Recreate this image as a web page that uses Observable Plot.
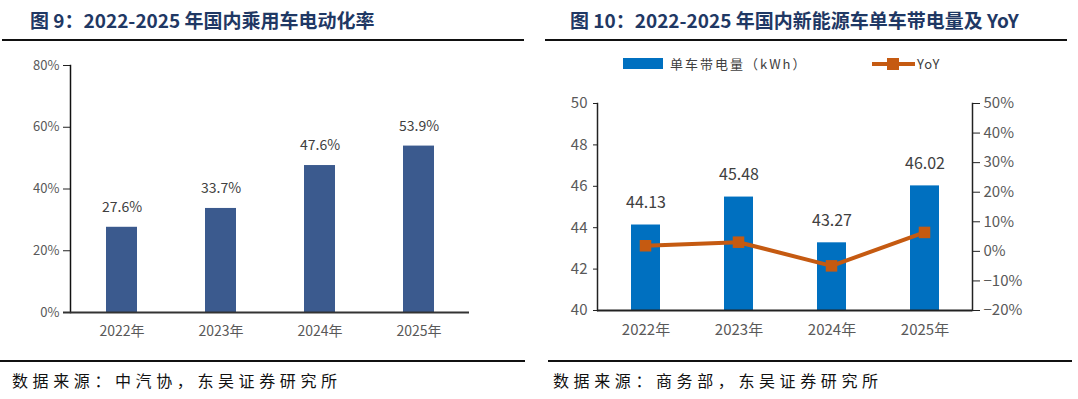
<!DOCTYPE html>
<html><head><meta charset="utf-8">
<script src="https://cdn.jsdelivr.net/npm/d3@7"></script>
<script src="https://cdn.jsdelivr.net/npm/@observablehq/plot@0.6"></script>
<style>
body{margin:0;width:1078px;height:399px;background:#fff;position:relative;overflow:hidden;font-family:"Noto Sans CJK SC",sans-serif;}
.title{position:absolute;top:6px;font-size:19px;font-weight:bold;color:#1f3864;white-space:nowrap;letter-spacing:0px;}
.hr{position:absolute;height:2px;background:#111;}
.src{position:absolute;top:368px;font-size:16px;color:#111;letter-spacing:4.6px;white-space:nowrap;}
.chart{position:absolute;}
.leg{position:absolute;font-size:13px;color:#404040;letter-spacing:2px;white-space:nowrap;}
</style></head>
<body>
<div class="title" style="left:30px">图 9：2022-2025 年国内乘用车电动化率</div>
<div class="title" style="left:570px">图 10：2022-2025 年国内新能源车单车带电量及 YoY</div>
<div class="hr" style="left:2px;top:39px;width:522px"></div>
<div class="hr" style="left:545px;top:39px;width:522px"></div>
<div class="hr" style="left:0px;top:360px;width:525px"></div>
<div class="hr" style="left:548px;top:360px;width:524px"></div>
<div class="src" style="left:12px">数据来源：中汽协，东吴证券研究所</div>
<div class="src" style="left:553px">数据来源：商务部，东吴证券研究所</div>

<div style="position:absolute;left:623px;top:58px;width:40px;height:11px;background:#0070c0"></div>
<div class="leg" style="left:670px;top:54px">单车带电量（kWh）</div>
<div style="position:absolute;left:872px;top:62px;width:43px;height:4px;background:#c55a11"></div>
<div style="position:absolute;left:887px;top:58px;width:12px;height:12px;background:#c55a11"></div>
<div class="leg" style="left:917px;top:54px;letter-spacing:1px">YoY</div>

<div id="c1" class="chart" style="left:0;top:50px"></div>
<div id="c2" class="chart" style="left:540px;top:80px"></div>
<div id="c3" class="chart" style="left:540px;top:80px"></div>

<script>
const years = ["2022年","2023年","2024年","2025年"];
const evRate = [27.6, 33.7, 47.6, 53.9];
const rateTicks = [0, 20, 40, 60, 80];
const battery = [44.13, 45.48, 43.27, 46.02];
const yoy = [1.9, 3.1, -4.9, 6.4];
const batteryTicks = [40, 42, 44, 46, 48, 50];
const yoyTicks = [-20, -10, 0, 10, 20, 30, 40, 50];

const d1 = years.map((y, i) => ({year: y, v: evRate[i]}));
const d2 = years.map((y, i) => ({year: y, v: battery[i], yoy: yoy[i]}));
const font = "Noto Sans CJK SC, sans-serif";

const p1 = Plot.plot({
  width: 540, height: 300,
  marginLeft: 70, marginRight: 71, marginTop: 15, marginBottom: 38,
  style: {fontFamily: font, background: "transparent", overflow: "visible"},
  x: {domain: years, paddingInner: 0.69, paddingOuter: 0.345, label: null},
  y: {domain: [0, 80], label: null},
  marks: [
    Plot.barY(d1, {x: "year", y: "v", fill: "#3b5a8e"}),
    Plot.text(d1, {x: "year", y: "v", text: d => d.v.toFixed(1) + "%", dy: -20, fontSize: 14, fill: "#404040"}),
    Plot.axisY({ticks: rateTicks, tickFormat: d => d + "%", tickSize: 7, tickPadding: 4, fontSize: 13, color: "#595959", stroke: "#222", label: null}),
    Plot.axisX({tickSize: 0, tickPadding: 14, fontSize: 14, color: "#595959", label: null}),
    Plot.frame({anchor: "left", stroke: "#111", strokeWidth: 1.5}),
    Plot.ruleY([0], {stroke: "#333", strokeWidth: 2, insetLeft: -7})
  ]
});
document.getElementById("c1").appendChild(p1);

const p2 = Plot.plot({
  width: 538, height: 270,
  marginLeft: 57, marginRight: 106, marginTop: 23, marginBottom: 40,
  style: {fontFamily: font, background: "transparent", overflow: "visible"},
  x: {domain: years, paddingInner: 0.69, paddingOuter: 0.345, label: null},
  y: {domain: [40, 50], label: null},
  marks: [
    Plot.barY(d2, {x: "year", y1: 40, y2: "v", fill: "#0070c0"}),
    Plot.text(d2, {x: "year", y: "v", text: d => d.v.toFixed(2), dy: -22, fontSize: 16, fill: "#404040"}),
    Plot.axisY({ticks: batteryTicks, tickSize: 4, tickPadding: 6, fontSize: 15, color: "#595959", stroke: "#222", label: null}),
    Plot.axisX({tickSize: 0, tickPadding: 14, fontSize: 15, color: "#595959", label: null}),
    Plot.frame({anchor: "left", stroke: "#222", strokeWidth: 1.5}),
    Plot.ruleY([40], {stroke: "#222", strokeWidth: 2})
  ]
});
document.getElementById("c2").appendChild(p2);

const p3 = Plot.plot({
  width: 538, height: 270,
  marginLeft: 57, marginRight: 106, marginTop: 23, marginBottom: 40,
  style: {fontFamily: font, background: "transparent", overflow: "visible"},
  x: {domain: years, paddingInner: 0.69, paddingOuter: 0.345, label: null, axis: null},
  y: {domain: [-20, 50], label: null},
  marks: [
    Plot.line(d2, {x: "year", y: "yoy", stroke: "#c55a11", strokeWidth: 4}),
    Plot.dot(d2, {x: "year", y: "yoy", symbol: "square", r: 6.5, fill: "#c55a11"}),
    Plot.axisY({anchor: "right", ticks: yoyTicks, tickFormat: d => (d < 0 ? "−" + (-d) : d) + "%", tickSize: 7, tickPadding: 4, fontSize: 15, color: "#595959", stroke: "#222", label: null}),
    Plot.frame({anchor: "right", stroke: "#222", strokeWidth: 1.5})
  ]
});
document.getElementById("c3").appendChild(p3);
</script>
</body></html>
